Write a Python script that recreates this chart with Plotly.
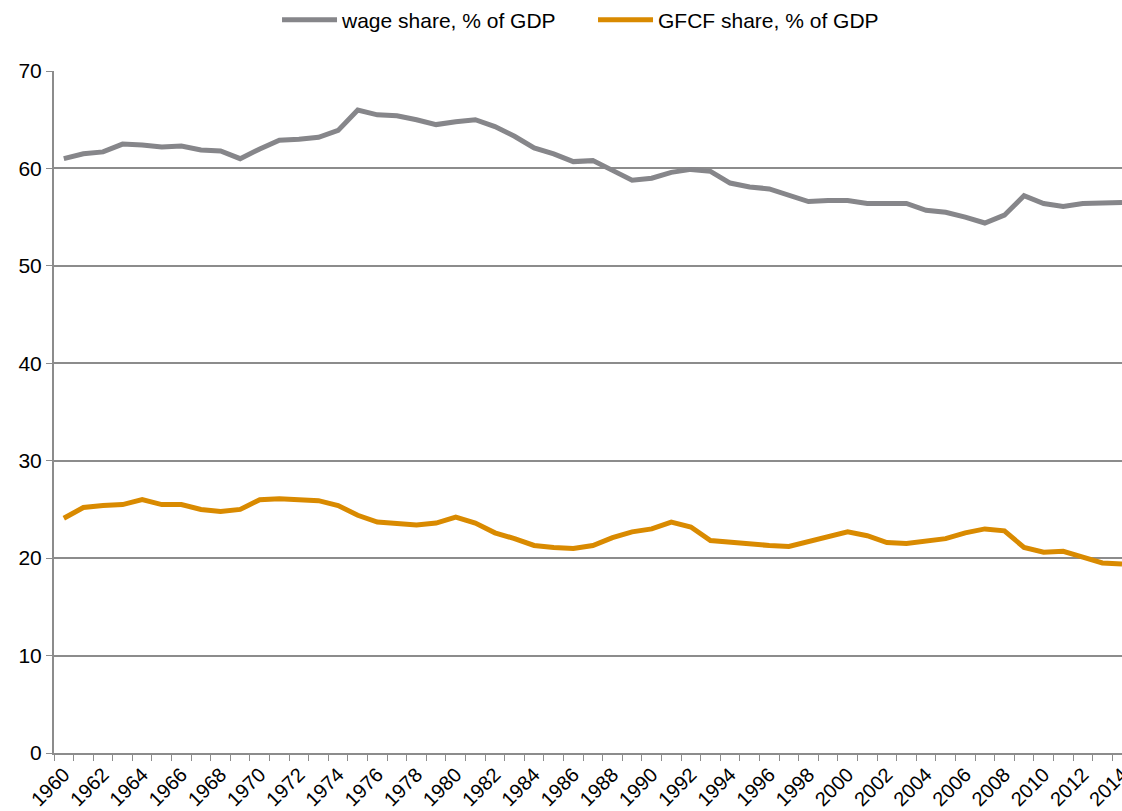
"""Wage share and GFCF share of GDP, 1960-2014."""

import plotly.graph_objects as go

YEARS = list(range(1960, 2015))

# Compensation of employees, % of GDP
WAGE_SHARE = [
    61.0, 61.5, 61.7, 62.5, 62.4, 62.2, 62.3, 61.9, 61.8, 61.0,
    62.0, 62.9, 63.0, 63.2, 63.9, 66.0, 65.5, 65.4, 65.0, 64.5,
    64.8, 65.0, 64.3, 63.3, 62.1, 61.5, 60.7, 60.8, 59.8, 58.8,
    59.0, 59.6, 59.9, 59.7, 58.5, 58.1, 57.9, 57.3, 56.6, 56.7,
    56.7, 56.4, 56.4, 56.4, 55.7, 55.5, 55.0, 54.4, 55.2, 57.2,
    56.4, 56.1, 56.4, 56.5, 56.5,
]

# Gross fixed capital formation, % of GDP
GFCF_SHARE = [
    24.1, 25.2, 25.4, 25.5, 26.0, 25.5, 25.5, 25.0, 24.8, 25.0,
    26.0, 26.1, 26.0, 25.9, 25.4, 24.4, 23.7, 23.6, 23.4, 23.6,
    24.2, 23.6, 22.6, 22.0, 21.3, 21.1, 21.0, 21.3, 22.1, 22.7,
    23.0, 23.7, 23.2, 21.8, 21.6, 21.5, 21.3, 21.2, 21.7, 22.3,
    22.7, 22.3, 21.6, 21.5, 21.7, 22.0, 22.6, 23.0, 22.8, 21.1,
    20.6, 20.7, 20.1, 19.5, 19.4,
]

X_TICKS = list(range(1960, 2015, 2))

FONT = "Liberation Sans, Arial, sans-serif"
AXIS_GREY = "#8c8c8c"

fig = go.Figure()

fig.add_trace(
    go.Scatter(
        x=YEARS,
        y=WAGE_SHARE,
        mode="lines",
        name="wage share, % of GDP",
        line=dict(color="#86868a", width=5),
    )
)

fig.add_trace(
    go.Scatter(
        x=YEARS,
        y=GFCF_SHARE,
        mode="lines",
        name="GFCF share, % of GDP",
        line=dict(color="#d98a00", width=5),
    )
)

fig.update_layout(
    width=1122,
    height=811,
    autosize=False,
    plot_bgcolor="white",
    paper_bgcolor="white",
    font=dict(family=FONT, size=21, color="#000000"),
    margin=dict(l=54, r=0, t=71, b=58, autoexpand=False),
    showlegend=True,
    legend=dict(
        orientation="h",
        x=0.2469,
        xanchor="left",
        xref="container",
        y=0.9753,
        yanchor="middle",
        yref="container",
        font=dict(family=FONT, size=21),
        itemwidth=55,
        entrywidth=246,
        entrywidthmode="pixels",
    ),
    xaxis=dict(
        range=[1959.5, 2014.0],
        tickvals=X_TICKS,
        ticktext=[str(y) for y in X_TICKS],
        tickangle=-45,
        ticks="",
        ticklabeloverflow="allow",
        automargin=False,
        showgrid=False,
        showline=True,
        linecolor=AXIS_GREY,
        linewidth=2,
        zeroline=False,
        tickfont=dict(family=FONT, size=20),
        minor=dict(
            tick0=1959.5,
            dtick=1,
            ticks="outside",
            ticklen=6,
            tickcolor=AXIS_GREY,
            tickwidth=1,
            showgrid=False,
        ),
    ),
    yaxis=dict(
        range=[0, 70],
        dtick=10,
        ticks="outside",
        ticklen=6,
        tickcolor=AXIS_GREY,
        automargin=False,
        showgrid=True,
        gridcolor=AXIS_GREY,
        gridwidth=1.5,
        showline=True,
        linecolor=AXIS_GREY,
        linewidth=2,
        zeroline=False,
        tickfont=dict(family=FONT, size=21),
    ),
)

# Drop the default page margin so the figure fills the window exactly.
fig.write_html(
    "out.html",
    config={"responsive": False, "displayModeBar": False},
    post_script="document.body.style.margin='0';document.body.style.overflow='hidden';",
)
